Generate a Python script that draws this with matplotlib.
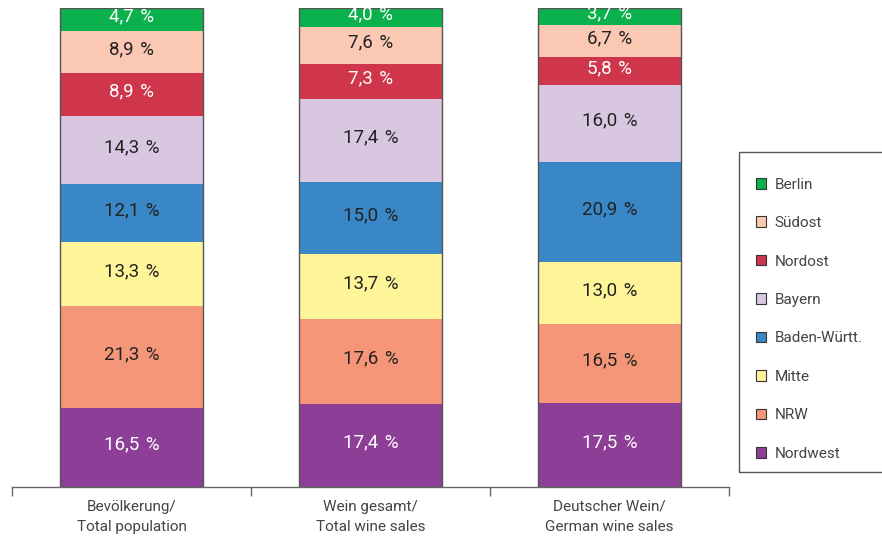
import matplotlib
matplotlib.use("Agg")
import matplotlib.pyplot as plt
from matplotlib.patches import Rectangle
import numpy as np

plt.rcParams['font.family'] = ['Roboto', 'DejaVu Sans']

categories = ["Bevölkerung/\nTotal population", "Wein gesamt/\nTotal wine sales", "Deutscher Wein/\nGerman wine sales"]
# stacking order bottom -> top
regions = ["Nordwest", "NRW", "Mitte", "Baden-Württ.", "Bayern", "Nordost", "Südost", "Berlin"]
values = {
    "Nordwest":     [16.5, 17.4, 17.5],
    "NRW":          [21.3, 17.6, 16.5],
    "Mitte":        [13.3, 13.7, 13.0],
    "Baden-Württ.": [12.1, 15.0, 20.9],
    "Bayern":       [14.3, 17.4, 16.0],
    "Nordost":      [8.9, 7.3, 5.8],
    "Südost":       [8.9, 7.6, 6.7],
    "Berlin":       [4.7, 4.0, 3.7],
}
colors = {
    "Nordwest": "#8d3e97",
    "NRW": "#f49677",
    "Mitte": "#fef599",
    "Baden-Württ.": "#3a87c7",
    "Bayern": "#d9c6e1",
    "Nordost": "#cf364b",
    "Südost": "#fac8b3",
    "Berlin": "#0bb14c",
}
text_colors = {
    "Nordwest": "white", "NRW": "#222222", "Mitte": "#222222", "Baden-Württ.": "#222222",
    "Bayern": "#222222", "Nordost": "white", "Südost": "#222222", "Berlin": "white",
}

fig = plt.figure(figsize=(8.82, 5.37), dpi=100)
ax = fig.add_axes([12/882, 50/537, 717/882, 479/537])

x = np.arange(len(categories))
width = 0.6
bottom = np.zeros(len(categories))
handles = {}
for r in regions:
    v = np.array(values[r])
    b = ax.bar(x, v, width, bottom=bottom, color=colors[r], linewidth=0, label=r)
    handles[r] = b
    for xi, vi, bi in zip(x, v, bottom):
        lbl = f"{vi:.1f}".replace(".", ",") + "\u200a %"
        ax.text(xi, bi + vi / 2 + 0.6, lbl, ha="center", va="center",
                fontsize=13.5, color=text_colors[r])
    bottom = bottom + v

# outlines
ax.bar(x, bottom, width, fill=False, edgecolor="#555555", linewidth=1.0)

ax.set_xlim(-0.5, 2.5)
ax.set_ylim(0, 100)
for s in ["top", "left", "right"]:
    ax.spines[s].set_visible(False)
ax.spines["bottom"].set_color("#666666")
ax.spines["bottom"].set_linewidth(1.0)
ax.set_yticks([])
ax.set_xticks(x)
ax.set_xticklabels(categories, fontsize=11, color="#444444", linespacing=1.6)
ax.tick_params(axis="x", which="major", length=0, pad=9)
ax.set_xticks([-0.5, 0.5, 1.5, 2.5], minor=True)
ax.tick_params(axis="x", which="minor", length=6.5, width=1.0, color="#666666", direction="out")

# legend
order = list(reversed(regions))
leg = fig.legend([handles[r] for r in order], order, loc="upper left",
                 bbox_to_anchor=(748/882, 1 - 170/537), frameon=False, borderpad=0,
                 prop={"size": 11}, labelspacing=1.6,
                 handlelength=0.68, handleheight=0.68,
                 handletextpad=0.55, labelcolor="#444444")
for h in leg.legend_handles:
    h.set_edgecolor("#333333")
    h.set_linewidth(0.8)

fig.patches.append(Rectangle((739/882, 1 - 472/537), 0.2, (472 - 152)/537,
                             transform=fig.transFigure, fill=False, edgecolor="#555555",
                             linewidth=1.0))

fig.savefig("out.png", dpi=100)
